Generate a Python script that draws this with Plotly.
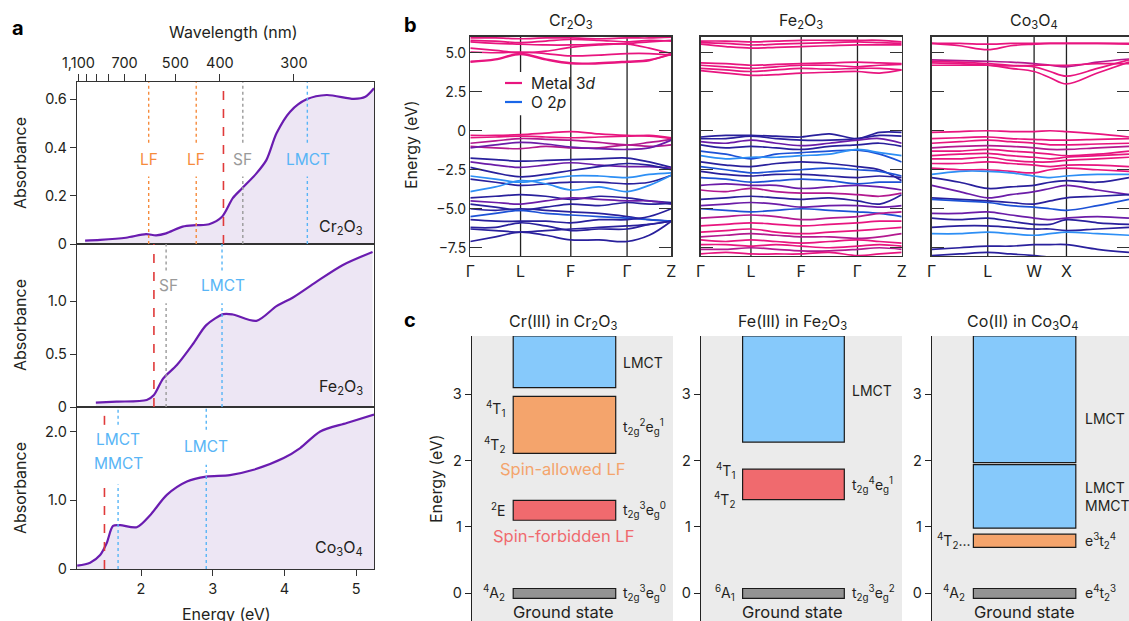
import plotly.graph_objects as go

W, H = 1129, 621
FONT = "Inter, Roboto, sans-serif"
TXT = "#231f20"

def px(x, y):
    return x / W, 1 - y / H

# ---------------- Panel a data ----------------
cr_E = [1.22, 1.43, 1.79, 2.07, 2.21, 2.35, 2.58, 2.77, 2.95, 3.13, 3.28, 3.41, 3.61, 3.75, 3.89, 4.08, 4.31, 4.59, 4.97, 5.13, 5.25]
cr_A = [0.014, 0.017, 0.026, 0.041, 0.036, 0.044, 0.072, 0.078, 0.082, 0.113, 0.19, 0.231, 0.293, 0.349, 0.459, 0.549, 0.60, 0.618, 0.602, 0.611, 0.646]
fe_E = [1.37, 1.66, 2.08, 2.18, 2.31, 2.50, 2.73, 2.91, 3.15, 3.28, 3.61, 3.89, 4.12, 4.44, 4.81, 5.23]
fe_A = [0.041, 0.050, 0.066, 0.113, 0.27, 0.396, 0.60, 0.774, 0.877, 0.874, 0.814, 0.953, 1.035, 1.18, 1.34, 1.465]
co_E = [1.11, 1.29, 1.43, 1.52, 1.61, 1.71, 1.94, 2.13, 2.36, 2.64, 2.91, 3.24, 3.57, 3.99, 4.22, 4.50, 4.87, 5.25]
co_A = [0.048, 0.092, 0.204, 0.375, 0.628, 0.638, 0.609, 0.788, 1.08, 1.275, 1.347, 1.368, 1.445, 1.616, 1.762, 2.004, 2.127, 2.25]

wl_ticks = [1100, 1000, 900, 800, 700, 600, 500, 400, 300]
wl_labels = ["1,100", "", "", "", "700", "", "500", "400", "300"]
energy_ticks = [2, 3, 4, 5]

# transitions: (energy, kind, gap_lo, gap_hi)
cr_trans = [(2.107, "LF", 0.28, 0.42), (2.77, "LF", 0.28, 0.42), (3.15, "edge", None, None),
            (3.42, "SF", 0.28, 0.42), (4.32, "LMCT", 0.28, 0.42)]
cr_trans_labels = [(2.107, "LF", "LF"), (2.77, "LF", "LF"), (3.42, "SF", "SF"), (4.33, "LMCT", "LMCT")]
fe_trans = [(2.18, "edge", None, None), (2.35, "SF", 0.98, 1.29), (3.13, "LMCT", 0.98, 1.29)]
fe_trans_labels = [(2.38, "SF", "SF"), (3.15, "LMCT", "LMCT")]
co_trans = [(1.49, "edge", 1.23, 2.10), (1.68, "LMCT", 1.23, 2.10), (2.91, "LMCT", 1.52, 2.03)]
co_trans_labels = [(1.68, "LMCT", "LMCT", 1.88), (1.68, "LMCT", "MMCT", 1.53), (2.91, "LMCT", "LMCT", 1.78)]

KIND_COL = {"LF": "#f68b3c", "SF": "#9a9a9a", "LMCT": "#58b5f6", "edge": "#e03a3a"}

# ---------------- Panel b data ----------------
kfrac_rh = [0, 0.125, 0.25, 0.375, 0.5, 0.64, 0.78, 0.89, 1.0]
kfrac_sp = [0, 0.142, 0.284, 0.40, 0.519, 0.60, 0.683, 0.84, 1.0]
kpts_rh = [0, 0.25, 0.5, 0.78, 1.0]
klab_rh = ["Γ", "L", "F", "Γ", "Z"]
kpts_sp = [0, 0.284, 0.519, 0.683, 1.0]
klab_sp = ["Γ", "L", "W", "X", "Γ"]

BAND_COL = {"P": "#e8157f", "M": "#b3198f", "V": "#6b1ca8", "D": "#29209c", "B": "#1d52d6", "L": "#2d8ff5"}

cr_bands = [
    ("P", [5.95, 5.95, 5.9, 5.95, 5.95, 5.9, 5.95, 5.95, 6.0]),
    ("P", [5.8, 5.75, 5.65, 5.75, 5.85, 5.8, 5.7, 5.8, 5.75]),
    ("P", [5.7, 5.6, 5.55, 5.5, 5.5, 5.55, 5.6, 5.7, 5.8]),
    ("P", [5.3, 5.15, 5.0, 5.1, 5.35, 5.5, 5.55, 5.3, 4.95]),
    ("P", [5.05, 5.0, 5.05, 4.95, 4.8, 4.85, 4.95, 4.95, 4.85]),
    ("P", [4.45, 4.6, 4.95, 4.6, 4.35, 4.35, 4.45, 4.55, 4.9]),
    ("P", [4.4, 4.55, 4.9, 4.55, 4.3, 4.3, 4.4, 4.5, 4.95]),
    ("P", [-0.3, -0.3, -0.25, -0.15, -0.05, -0.2, -0.3, -0.35, -0.5]),
    ("P", [-0.45, -0.4, -0.35, -0.4, -0.45, -0.4, -0.35, -0.3, -0.45]),
    ("M", [-0.8, -0.65, -0.5, -0.55, -0.6, -0.75, -0.9, -0.75, -0.55]),
    ("M", [-1.0, -1.1, -1.15, -1.0, -1.1, -1.1, -0.9, -1.0, -0.9]),
    ("V", [-1.1, -0.9, -0.75, -0.85, -1.05, -1.15, -1.2, -1.1, -0.6]),
    ("D", [-1.75, -1.85, -1.95, -1.9, -1.85, -1.8, -1.75, -2.0, -2.35]),
    ("V", [-2.0, -2.2, -2.35, -2.2, -2.05, -2.2, -2.3, -2.3, -2.4]),
    ("D", [-2.35, -2.7, -2.95, -2.8, -2.55, -2.3, -2.1, -2.2, -2.5]),
    ("L", [-2.9, -3.1, -3.3, -3.1, -2.9, -2.9, -3.0, -2.8, -2.7]),
    ("D", [-3.1, -3.3, -3.5, -3.4, -3.3, -3.3, -3.4, -3.3, -2.85]),
    ("L", [-3.9, -3.6, -3.2, -3.4, -3.8, -3.6, -3.9, -3.5, -2.85]),
    ("D", [-4.3, -4.2, -4.1, -4.2, -4.4, -4.2, -4.3, -4.5, -4.6]),
    ("V", [-4.5, -4.6, -4.7, -4.5, -4.3, -4.4, -4.5, -4.5, -4.7]),
    ("D", [-4.7, -4.9, -5.1, -4.9, -4.7, -4.8, -4.6, -4.7, -4.65]),
    ("D", [-5.0, -5.1, -5.0, -5.1, -5.2, -5.3, -5.5, -5.7, -5.8]),
    ("B", [-5.5, -5.3, -5.1, -5.3, -5.4, -5.5, -5.6, -5.7, -5.8]),
    ("D", [-5.7, -5.8, -5.8, -5.8, -5.9, -5.7, -5.7, -5.5, -5.0]),
    ("D", [-6.2, -6.2, -5.9, -6.1, -6.4, -6.3, -6.3, -6.0, -5.8]),
    ("D", [-6.3, -6.4, -6.5, -6.4, -6.3, -6.2, -6.1, -6.0, -5.8]),
    ("D", [-7.1, -6.8, -6.5, -6.7, -7.0, -7.0, -7.1, -6.7, -5.8]),
]

fe_bands = [
    ("P", [5.75, 5.75, 5.7, 5.75, 5.8, 5.8, 5.8, 5.8, 5.7]),
    ("P", [5.65, 5.6, 5.5, 5.55, 5.6, 5.65, 5.7, 5.65, 5.6]),
    ("P", [5.55, 5.4, 5.3, 5.35, 5.4, 5.45, 5.5, 5.5, 5.5]),
    ("P", [4.35, 4.3, 4.2, 4.25, 4.3, 4.35, 4.4, 4.35, 4.3]),
    ("P", [4.2, 4.1, 4.0, 4.1, 4.2, 4.2, 4.1, 4.2, 4.25]),
    ("P", [4.0, 3.9, 3.8, 3.9, 4.0, 3.95, 4.0, 4.0, 3.9]),
    ("P", [3.85, 3.7, 3.55, 3.6, 3.7, 3.75, 3.8, 3.7, 3.9]),
    ("D", [-0.4, -0.3, -0.3, -0.35, -0.4, -0.2, -0.5, -0.1, -0.1]),
    ("D", [-0.5, -0.5, -0.35, -0.5, -0.6, -0.6, -0.5, -0.3, -0.35]),
    ("V", [-0.7, -0.8, -0.6, -0.8, -0.95, -0.8, -0.6, -0.5, -0.8]),
    ("D", [-0.9, -1.1, -1.0, -1.1, -1.2, -1.0, -0.9, -0.8, -1.0]),
    ("B", [-1.3, -1.5, -1.8, -1.5, -1.4, -1.3, -1.25, -1.5, -2.0]),
    ("L", [-1.6, -1.8, -1.7, -1.7, -1.6, -1.5, -1.2, -1.4, -1.6]),
    ("D", [-2.0, -2.2, -2.3, -2.1, -2.0, -2.1, -2.3, -2.5, -3.2]),
    ("B", [-2.3, -2.5, -2.7, -2.6, -2.5, -2.4, -2.5, -2.6, -2.9]),
    ("D", [-2.6, -2.8, -2.9, -2.8, -2.8, -2.9, -3.0, -2.9, -3.0]),
    ("B", [-3.0, -3.1, -3.3, -3.2, -3.1, -3.2, -3.4, -3.3, -3.3]),
    ("V", [-3.5, -3.4, -3.5, -3.5, -3.7, -3.6, -3.5, -3.6, -3.8]),
    ("M", [-3.8, -3.9, -3.7, -3.9, -4.0, -4.0, -4.1, -4.2, -4.0]),
    ("D", [-4.4, -4.3, -4.2, -4.3, -4.4, -4.3, -4.5, -4.7, -4.1]),
    ("V", [-4.8, -4.7, -4.6, -4.7, -4.9, -4.8, -4.8, -4.9, -4.8]),
    ("B", [-5.0, -5.1, -5.2, -5.1, -5.0, -5.1, -5.2, -5.3, -5.5]),
    ("M", [-5.6, -5.5, -5.4, -5.5, -5.7, -5.6, -5.5, -5.3, -5.2]),
    ("P", [-6.1, -6.0, -5.9, -6.0, -6.1, -6.0, -5.9, -5.8, -5.8]),
    ("P", [-6.5, -6.4, -6.3, -6.5, -6.6, -6.5, -6.4, -6.3, -6.2]),
    ("M", [-6.8, -6.7, -6.6, -6.7, -6.8, -6.8, -6.9, -6.8, -6.6]),
    ("P", [-7.0, -7.1, -7.0, -7.1, -7.2, -7.1, -7.0, -7.1, -7.2]),
    ("P", [-7.3, -7.3, -7.4, -7.3, -7.4, -7.5, -7.4, -7.3, -7.4]),
    ("M", [-7.6, -7.6, -7.5, -7.6, -7.7, -7.7, -7.6, -7.5, -7.6]),
    ("P", [-7.9, -7.8, -7.9, -7.9, -7.9, -7.8, -8.0, -7.9, -7.8]),
]

co_bands = [
    ("P", [5.6, 5.6, 5.55, 5.6, 5.6, 5.6, 5.6, 5.6, 5.6]),
    ("P", [5.6, 5.45, 5.2, 5.45, 5.55, 5.6, 5.6, 5.6, 5.55]),
    ("M", [4.55, 4.5, 4.45, 4.4, 4.3, 4.2, 4.1, 4.4, 4.6]),
    ("P", [4.45, 4.4, 4.3, 4.2, 4.1, 3.8, 3.5, 4.0, 4.55]),
    ("P", [4.35, 4.3, 4.2, 4.0, 3.8, 3.4, 3.0, 3.7, 4.4]),
    ("P", [4.2, 4.2, 4.2, 4.15, 4.2, 4.2, 4.2, 4.3, 4.3]),
    ("P", [-0.1, -0.05, 0.0, -0.05, -0.05, 0.0, -0.05, -0.2, -0.4]),
    ("P", [-0.5, -0.45, -0.4, -0.5, -0.55, -0.6, -0.6, -0.55, -0.5]),
    ("P", [-0.8, -0.7, -0.6, -0.7, -0.8, -0.9, -0.9, -0.85, -0.8]),
    ("M", [-1.1, -1.0, -0.95, -1.0, -1.1, -1.2, -1.2, -1.1, -1.0]),
    ("P", [-1.3, -1.3, -1.2, -1.3, -1.4, -1.5, -1.6, -1.5, -1.3]),
    ("P", [-1.6, -1.5, -1.45, -1.6, -1.7, -1.8, -1.7, -1.6, -1.5]),
    ("P", [-1.8, -1.8, -1.7, -1.9, -2.0, -2.0, -1.9, -1.8, -1.7]),
    ("P", [-2.1, -2.1, -2.0, -2.1, -2.2, -2.3, -2.2, -2.2, -2.3]),
    ("P", [-2.4, -2.5, -2.5, -2.6, -2.7, -2.5, -2.4, -2.5, -2.6]),
    ("L", [-2.8, -2.6, -2.6, -2.7, -2.9, -3.0, -2.9, -2.8, -2.8]),
    ("D", [-3.0, -3.3, -3.7, -3.6, -3.5, -3.3, -3.2, -3.3, -3.0]),
    ("V", [-3.5, -3.9, -4.3, -4.1, -3.9, -3.7, -3.5, -3.8, -4.1]),
    ("D", [-4.3, -4.4, -4.5, -4.6, -4.7, -4.5, -4.3, -4.2, -4.1]),
    ("B", [-4.4, -4.5, -4.6, -4.8, -4.9, -5.0, -5.1, -4.8, -4.4]),
    ("V", [-5.3, -5.3, -5.2, -5.4, -5.6, -5.7, -5.6, -5.5, -5.6]),
    ("D", [-5.6, -5.7, -5.6, -5.8, -6.0, -6.0, -5.7, -5.9, -6.0]),
    ("D", [-6.2, -6.1, -6.1, -6.2, -6.3, -6.3, -6.4, -6.3, -6.2]),
    ("L", [-6.6, -6.6, -6.5, -6.6, -6.7, -6.6, -6.5, -6.6, -6.7]),
    ("D", [-7.6, -7.5, -7.4, -7.4, -7.3, -7.3, -7.3, -7.6, -7.8]),
    ("D", [-8.0, -7.9, -7.8, -7.9, -8.0, -8.1, -8.1, -8.1, -8.2]),
]

band_yticks = [-7.5, -5.0, -2.5, 0, 2.5, 5.0]
band_yticklabels = ["−7.5", "−5.0", "−2.5", "0", "2.5", "5.0"]

# ---------------- Panel c data ----------------
c_yticks = [0, 1, 2, 3]
# boxes: (E_low, E_high, color)
cr_levels = [(-0.08, 0.07, "#939393"), (1.10, 1.40, "#f06a6e"), (2.11, 2.97, "#f4a46c"), (3.10, 3.88, "#86c9fb")]
fe_levels = [(-0.08, 0.07, "#939393"), (1.41, 1.87, "#f06a6e"), (2.28, 3.88, "#86c9fb")]
co_levels = [(-0.08, 0.07, "#939393"), (0.69, 0.89, "#f4a46c"), (0.98, 1.94, "#86c9fb"), (1.97, 3.88, "#86c9fb")]
box_x = {"cr": (0.205, 0.715), "fe": (0.207, 0.713), "co": (0.21, 0.73)}

# ---------------- Build figure ----------------
fig = go.Figure()
shapes, annos = [], []

def ann(x, y, text, size=14, color=TXT, xanchor="center", yanchor="middle", xref="paper", yref="paper", **kw):
    annos.append(dict(x=x, y=y, text=text, showarrow=False, xref=xref, yref=yref,
                      xanchor=xanchor, yanchor=yanchor, font=dict(size=size, color=color, family=FONT), **kw))

def annp(xp, yp, text, **kw):
    x, y = px(xp, yp)
    ann(x, y, text, **kw)

# Panel a curves
for (E, A, ya, xa) in [(cr_E, cr_A, "y", "x"), (fe_E, fe_A, "y2", "x2"), (co_E, co_A, "y3", "x3")]:
    fig.add_trace(go.Scatter(x=E, y=A, xaxis=xa, yaxis=ya, mode="lines",
                             line=dict(color="#6a1cb0", width=2.2, shape="spline", smoothing=0.8),
                             fill="tozeroy", fillcolor="#ede6f4", hoverinfo="skip"))
# invisible trace for top wavelength axis
fig.add_trace(go.Scatter(x=[2], y=[0], xaxis="x4", yaxis="y", mode="markers", marker=dict(opacity=0), hoverinfo="skip"))

a_ranges = {"y": 0.672, "y2": 1.54, "y3": 2.36}
for trans, xa, ya in [(cr_trans, "x", "y"), (fe_trans, "x2", "y2"), (co_trans, "x3", "y3")]:
    top = a_ranges[ya]
    for E, kind, glo, ghi in trans:
        dash = "dash" if kind == "edge" else "dot"
        w = 1.6 if kind == "edge" else 1.4
        segs = [(0, top)] if glo is None else [(0, glo), (ghi, top)]
        for y0, y1 in segs:
            shapes.append(dict(type="line", xref=xa, yref=ya, x0=E, x1=E, y0=y0, y1=y1,
                               line=dict(color=KIND_COL[kind], width=w, dash=dash), layer="above"))

for E, kind, txt in cr_trans_labels:
    ann(E, 0.349, txt, size=15.5, color=KIND_COL[kind], xref="x", yref="y")
for E, kind, txt in fe_trans_labels:
    ann(E, 1.15, txt, size=15.5, color=KIND_COL[kind], xref="x2", yref="y2")
for E, kind, txt, yv in co_trans_labels:
    ann(E, yv, txt, size=15.5, color=KIND_COL[kind], xref="x3", yref="y3")

ann(5.12, 0.07, "Cr<sub>2</sub>O<sub>3</sub>", size=16, xref="x", yref="y", xanchor="right")
ann(5.12, 0.19, "Fe<sub>2</sub>O<sub>3</sub>", size=16, xref="x2", yref="y2", xanchor="right")
ann(5.12, 0.30, "Co<sub>3</sub>O<sub>4</sub>", size=16, xref="x3", yref="y3", xanchor="right")

# Panel b bands
for bands, xa, ya, kf in [(cr_bands, "x5", "y5", kfrac_rh), (fe_bands, "x6", "y6", kfrac_rh), (co_bands, "x7", "y7", kfrac_sp)]:
    for ck, vals in bands:
        fig.add_trace(go.Scatter(x=kf, y=vals, xaxis=xa, yaxis=ya, mode="lines",
                                 line=dict(color=BAND_COL[ck], width=1.7, shape="spline", smoothing=1.0),
                                 hoverinfo="skip"))

for xa, ya, kp in [("x5", "y5", kpts_rh), ("x6", "y6", kpts_rh), ("x7", "y7", kpts_sp)]:
    for k in kp[1:-1]:
        if xa == "x5" and k == 0.25:
            segs = [(-8.1, 1.0), (3.76, 6.1)]
        else:
            segs = [(-8.1, 6.1)]
        for y0, y1 in segs:
            shapes.append(dict(type="line", xref=xa, yref=ya, x0=k, x1=k, y0=y0, y1=y1,
                               line=dict(color="#222", width=1.3), layer="below"))

# legend (manual)
for yy, col, txt in [(83, BAND_COL["P"], "Metal 3<i>d</i>"), (102, "#1a66e8", "O 2<i>p</i>")]:
    x0, y0 = px(505, yy)
    x1, _ = px(522, yy)
    shapes.append(dict(type="line", xref="paper", yref="paper", x0=x0, x1=x1, y0=y0, y1=y0,
                       line=dict(color=col, width=2.2)))
    annp(529, yy, txt, size=15.5, xanchor="left")

annp(571, 21, "Cr<sub>2</sub>O<sub>3</sub>", size=16)
annp(801, 21, "Fe<sub>2</sub>O<sub>3</sub>", size=16)
annp(1034, 21, "Co<sub>3</sub>O<sub>4</sub>", size=16)

# Panel c boxes
for xa, ya, levels, key in [("x8", "y8", cr_levels, "cr"), ("x9", "y9", fe_levels, "fe"), ("x10", "y10", co_levels, "co")]:
    shapes.append(dict(type="rect", xref=f"{xa} domain", yref=f"{ya} domain", x0=0, x1=1, y0=0, y1=1,
                       fillcolor="#ebebeb", line=dict(width=0), layer="below"))
    bx0, bx1 = box_x[key]
    for lo, hi, col in levels:
        shapes.append(dict(type="rect", xref=xa, yref=ya, x0=bx0, x1=bx1, y0=lo, y1=hi,
                           fillcolor=col, line=dict(color="#1a1a1a", width=1.2), layer="above"))
    fig.add_trace(go.Scatter(x=[0.5], y=[0], xaxis=xa, yaxis=ya, mode="markers",
                             marker=dict(opacity=0), hoverinfo="skip"))

# Panel c labels
def cl(xa, ya, x, y, text, size=14, color=TXT, xanchor="left"):
    ann(x, y, text, size=size, color=color, xanchor=xanchor, xref=xa, yref=ya)

cl("x8", "y8", 0.74, 3.48, "LMCT")
cl("x8", "y8", 0.176, 2.78, "<sup>4</sup>T<sub>1</sub>", xanchor="right")
cl("x8", "y8", 0.176, 2.23, "<sup>4</sup>T<sub>2</sub>", xanchor="right")
cl("x8", "y8", 0.74, 2.5, "t<sub>2g</sub><sup>2</sup>e<sub>g</sub><sup>1</sup>")
cl("x8", "y8", 0.455, 1.87, "Spin-allowed LF", size=16.5, color="#f4a46c", xanchor="center")
cl("x8", "y8", 0.176, 1.25, "<sup>2</sup>E", xanchor="right")
cl("x8", "y8", 0.74, 1.25, "t<sub>2g</sub><sup>3</sup>e<sub>g</sub><sup>0</sup>")
cl("x8", "y8", 0.455, 0.86, "Spin-forbidden LF", size=16.5, color="#f06a6e", xanchor="center")
cl("x8", "y8", 0.176, 0.0, "<sup>4</sup>A<sub>2</sub>", xanchor="right")
cl("x8", "y8", 0.74, 0.0, "t<sub>2g</sub><sup>3</sup>e<sub>g</sub><sup>0</sup>")
cl("x8", "y8", 0.455, -0.29, "Ground state", size=16.5, xanchor="center")

cl("x9", "y9", 0.741, 3.06, "LMCT")
cl("x9", "y9", 0.178, 1.85, "<sup>4</sup>T<sub>1</sub>", xanchor="right")
cl("x9", "y9", 0.178, 1.40, "<sup>4</sup>T<sub>2</sub>", xanchor="right")
cl("x9", "y9", 0.741, 1.63, "t<sub>2g</sub><sup>4</sup>e<sub>g</sub><sup>1</sup>")
cl("x9", "y9", 0.178, 0.0, "<sup>6</sup>A<sub>1</sub>", xanchor="right")
cl("x9", "y9", 0.741, 0.0, "t<sub>2g</sub><sup>3</sup>e<sub>g</sub><sup>2</sup>")
cl("x9", "y9", 0.455, -0.29, "Ground state", size=16.5, xanchor="center")

cl("x10", "y10", 0.765, 2.63, "LMCT")
cl("x10", "y10", 0.765, 1.60, "LMCT")
cl("x10", "y10", 0.765, 1.32, "MMCT")
cl("x10", "y10", 0.205, 0.79, "<sup>4</sup>T<sub>2</sub>...", xanchor="right")
cl("x10", "y10", 0.765, 0.79, "e<sup>3</sup>t<sub>2</sub><sup>4</sup>")
cl("x10", "y10", 0.18, 0.0, "<sup>4</sup>A<sub>2</sub>", xanchor="right")
cl("x10", "y10", 0.765, 0.0, "e<sup>4</sup>t<sub>2</sub><sup>3</sup>")
cl("x10", "y10", 0.47, -0.29, "Ground state", size=16.5, xanchor="center")

annp(563, 322, "Cr(III) in Cr<sub>2</sub>O<sub>3</sub>", size=16)
annp(792, 322, "Fe(III) in Fe<sub>2</sub>O<sub>3</sub>", size=16)
annp(1023, 322, "Co(II) in Co<sub>3</sub>O<sub>4</sub>", size=16)

# panel letters and axis titles
annp(18, 28, "<b>a</b>", size=20, color="#000")
annp(410, 25, "<b>b</b>", size=20, color="#000")
annp(410, 320, "<b>c</b>", size=20, color="#000")
annp(233, 32, "Wavelength (nm)", size=16)
annp(226, 614, "Energy (eV)", size=16)
for yy in [163, 325, 488]:
    annp(20, yy, "Absorbance", size=16, textangle=-90)
annp(411, 145, "Energy (eV)", size=16, textangle=-90)
annp(436, 478, "Energy (eV)", size=16, textangle=-90)

# ---------------- Axes ----------------
def dom_x(a, b):
    return [a / W, min(b / W, 1.0)]

def dom_y(top, bot):
    return [max(1 - bot / H, 0.0), 1 - top / H]

LINE = "#333"
tickfont = dict(size=14.5, family=FONT, color=TXT)
E_RANGE = [1.107, 5.25]

layout = dict(width=W, height=H, margin=dict(l=0, r=0, t=0, b=0, autoexpand=False),
              paper_bgcolor="white", plot_bgcolor="white", showlegend=False, hovermode=False,
              font=dict(family=FONT, size=14, color=TXT), shapes=shapes, annotations=annos)

xa_common = dict(domain=dom_x(77, 374), range=E_RANGE, showline=True, linecolor=LINE, linewidth=1.3,
                 mirror=True, showgrid=False, zeroline=False, tickfont=tickfont, automargin=False)
layout["xaxis"] = dict(xa_common, anchor="y", ticks="", showticklabels=False)
layout["xaxis2"] = dict(xa_common, anchor="y2", ticks="", showticklabels=False, matches="x")
layout["xaxis3"] = dict(xa_common, anchor="y3", ticks="outside", ticklen=6, tickcolor=LINE,
                        tickvals=energy_ticks, ticktext=[str(v) for v in energy_ticks], matches="x")
layout["xaxis4"] = dict(overlaying="x", anchor="y", side="top", range=E_RANGE, showgrid=False, zeroline=False,
                        tickvals=[1239.84 / w for w in wl_ticks], ticktext=wl_labels, automargin=False,
                        ticks="outside", ticklen=7, tickcolor=LINE, tickfont=tickfont, showline=False)

ya_common = dict(showline=True, linecolor=LINE, linewidth=1.3, mirror=True, showgrid=False, zeroline=False,
                 ticks="outside", ticklen=6, tickcolor=LINE, tickfont=tickfont, automargin=False)
layout["yaxis"] = dict(ya_common, domain=dom_y(82, 244), anchor="x", range=[0, 0.672],
                       tickvals=[0, 0.2, 0.4, 0.6], ticktext=["0", "0.2", "0.4", "0.6"])
layout["yaxis2"] = dict(ya_common, domain=dom_y(244, 407), anchor="x2", range=[0, 1.54],
                        tickvals=[0, 0.5, 1.0], ticktext=["0", "0.5", "1.0"])
layout["yaxis3"] = dict(ya_common, domain=dom_y(407, 569), anchor="x3", range=[0, 2.36],
                        tickvals=[0, 1.0, 2.0], ticktext=["0", "1.0", "2.0"])

bfont = dict(size=16, family=FONT, color=TXT)
for i, (x0, x1, kp, kl) in zip([5, 6, 7], [(470.3, 671.3, kpts_rh, klab_rh), (700.7, 901.7, kpts_rh, klab_rh),
                                           (931.7, 1129, kpts_sp, klab_sp)]):
    layout[f"xaxis{i}"] = dict(domain=dom_x(x0, x1), anchor=f"y{i}", range=[0, 1], showline=True, linecolor=LINE,
                               linewidth=1.3, mirror=True, showgrid=False, zeroline=False, ticks="",
                               tickvals=kp, ticktext=kl, tickfont=bfont, automargin=False)
    layout[f"yaxis{i}"] = dict(domain=dom_y(36.7, 256), anchor=f"x{i}", range=[-8.03, 6.03], showline=True,
                               linecolor=LINE, linewidth=1.3, mirror="ticks", showgrid=False, zeroline=False,
                               ticks="inside", ticklen=12, tickcolor=LINE, tickvals=band_yticks,
                               ticktext=band_yticklabels, showticklabels=(i == 5), automargin=False,
                               tickfont=dict(size=14, family=FONT, color=TXT))

for i, (x0, x1) in zip([8, 9, 10], [(472, 673), (701, 902), (932, 1129)]):
    layout[f"xaxis{i}"] = dict(domain=dom_x(x0, x1), anchor=f"y{i}", range=[0, 1], visible=False, automargin=False)
    layout[f"yaxis{i}"] = dict(domain=dom_y(336, 621), anchor=f"x{i}", range=[-0.42, 3.88], showline=True,
                               linecolor="#222", linewidth=1.3, showgrid=False, zeroline=False,
                               ticks="outside", ticklen=6, tickcolor="#222", tickvals=c_yticks,
                               ticktext=[str(v) for v in c_yticks], tickfont=tickfont, automargin=False)

fig.update_layout(**layout)
fig.write_html("out.html", config={"displayModeBar": False, "staticPlot": True},
               post_script="document.body.style.margin='0px';document.body.style.padding='0px';")
